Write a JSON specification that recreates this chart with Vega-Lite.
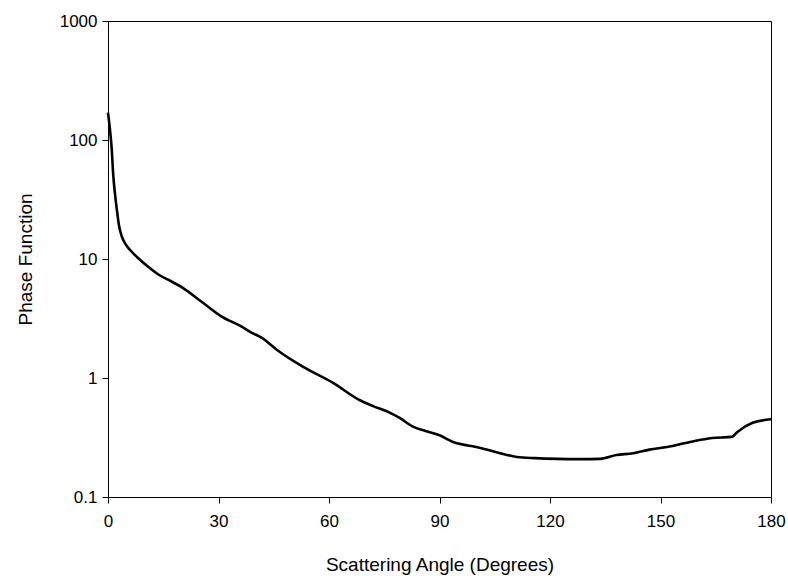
{
  "$schema": "https://vega.github.io/schema/vega-lite/v6.json",
  "width": 663,
  "height": 476,
  "autosize": "none",
  "padding": {"left": 108, "top": 21, "right": 17, "bottom": 79},
  "background": "white",
  "config": {
    "view": {"stroke": "#000000", "strokeWidth": 1},
    "font": "Liberation Sans",
    "axis": {
      "grid": false,
      "domainColor": "#000000",
      "tickColor": "#000000",
      "labelColor": "#000000",
      "titleColor": "#000000",
      "labelFont": "Liberation Sans",
      "titleFont": "Liberation Sans",
      "labelFontSize": 17,
      "titleFontSize": 19,
      "titleFontWeight": "normal",
      "tickSize": 6,
      "domainWidth": 1,
      "tickWidth": 1,
      "labelFlush": false
    }
  },
  "data": {
    "values": [
      {"angle": 0, "value": 170},
      {"angle": 0.5, "value": 125},
      {"angle": 1, "value": 85},
      {"angle": 1.4, "value": 52},
      {"angle": 2, "value": 33},
      {"angle": 2.4, "value": 26},
      {"angle": 3, "value": 19},
      {"angle": 3.8, "value": 15.3},
      {"angle": 4.6, "value": 13.6},
      {"angle": 6, "value": 11.9},
      {"angle": 8, "value": 10.3},
      {"angle": 10.9, "value": 8.6},
      {"angle": 14, "value": 7.3},
      {"angle": 16.3, "value": 6.7},
      {"angle": 20, "value": 5.8},
      {"angle": 25.5, "value": 4.35},
      {"angle": 31, "value": 3.26},
      {"angle": 36.4, "value": 2.69},
      {"angle": 38.6, "value": 2.44},
      {"angle": 41.8, "value": 2.17},
      {"angle": 45.9, "value": 1.72},
      {"angle": 53, "value": 1.24},
      {"angle": 61.1, "value": 0.91},
      {"angle": 68.4, "value": 0.65},
      {"angle": 72, "value": 0.58},
      {"angle": 76.6, "value": 0.51},
      {"angle": 79.3, "value": 0.46},
      {"angle": 82.8, "value": 0.39},
      {"angle": 86, "value": 0.36},
      {"angle": 90, "value": 0.33},
      {"angle": 93.7, "value": 0.29},
      {"angle": 100, "value": 0.263},
      {"angle": 105, "value": 0.24},
      {"angle": 111, "value": 0.217},
      {"angle": 116, "value": 0.212},
      {"angle": 122, "value": 0.209},
      {"angle": 128, "value": 0.208},
      {"angle": 133.6, "value": 0.209},
      {"angle": 138, "value": 0.225},
      {"angle": 142.6, "value": 0.233},
      {"angle": 147, "value": 0.25},
      {"angle": 151.8, "value": 0.263},
      {"angle": 158, "value": 0.29},
      {"angle": 164, "value": 0.313},
      {"angle": 169.4, "value": 0.32},
      {"angle": 170.8, "value": 0.35},
      {"angle": 175, "value": 0.42},
      {"angle": 180, "value": 0.45}
    ]
  },
  "mark": {"type": "line", "color": "#000000", "strokeWidth": 2.6, "interpolate": "monotone"},
  "encoding": {
    "x": {
      "field": "angle",
      "type": "quantitative",
      "scale": {"domain": [0, 180], "nice": false, "zero": false},
      "axis": {
        "title": "Scattering Angle (Degrees)",
        "values": [0, 30, 60, 90, 120, 150, 180],
        "labelPadding": 10,
        "titlePadding": 26
      }
    },
    "y": {
      "field": "value",
      "type": "quantitative",
      "scale": {"type": "log", "domain": [0.1, 1000], "nice": false},
      "axis": {
        "title": "Phase Function",
        "values": [0.1, 1, 10, 100, 1000],
        "format": "~g",
        "labelPadding": 5,
        "titlePadding": 24
      }
    }
  }
}
